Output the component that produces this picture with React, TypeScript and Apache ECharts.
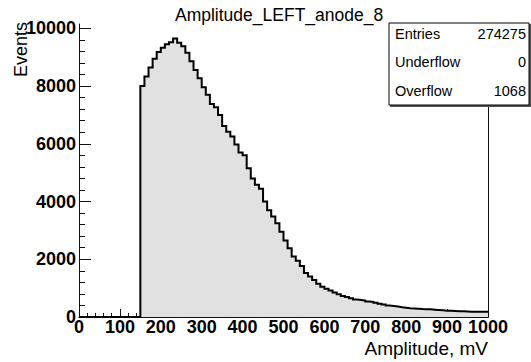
import { useEffect, useRef } from "react";
import * as echarts from "echarts";

// Histogram: 100 bins of 10 mV from 0 to 1000 mV
const BIN_WIDTH = 10;
const X_MIN = 0;
const X_MAX = 1000;
const Y_MAX = 10150;
const COUNTS = [
  0, 0, 0, 0, 0, 0, 0, 0, 0, 0,
  0, 0, 0, 0, 0, 8000, 8330, 8640, 8950, 9180,
  9330, 9450, 9520, 9650, 9500, 9380, 9150, 8860, 8560, 8270,
  7960, 7700, 7380, 7270, 7000, 6620, 6420, 6250, 5980, 5700,
  5600, 5150, 4800, 4580, 4440, 4000, 3700, 3480, 3250, 2950,
  2650, 2380, 2100, 1950, 1770, 1520, 1400, 1280, 1150, 1050,
  980, 920, 850, 790, 730, 690, 650, 610, 590, 570,
  540, 520, 490, 460, 430, 400, 380, 360, 340, 320,
  300, 295, 285, 275, 270, 265, 255, 245, 235, 220,
  215, 210, 200, 195, 190, 185, 185, 180, 180, 178,
];
const Y_MAJOR = [0, 2000, 4000, 6000, 8000, 10000];
const STATS_LABELS = ["Entries", "Underflow", "Overflow"];
const STATS_VALUES = ["274275", "0", "1068"];
const TITLE = "Amplitude_LEFT_anode_8";
const X_NAME = "Amplitude, mV";
const Y_NAME = "Events";

const FONT = "'Liberation Sans', Arial, Helvetica, sans-serif";

export default function App() {
  const ref = useRef<HTMLDivElement>(null);
  useEffect(() => {
    if (!ref.current) return;
    const chart = echarts.init(ref.current, undefined, { renderer: "svg" });

    const data: [number, number][] = COUNTS.map((c, i) => [X_MIN + i * BIN_WIDTH, c]);
    data.push([X_MAX, COUNTS[COUNTS.length - 1]]);

    const yMinor: number[] = [];
    for (let i = 0; i < Y_MAJOR.length - 1; i++) {
      const step = (Y_MAJOR[i + 1] - Y_MAJOR[i]) / 5;
      for (let k = 1; k < 5; k++) yMinor.push(Y_MAJOR[i] + k * step);
    }

    const statsRowY = [33.5, 62, 90.5];
    const statsChildren: any[] = [
      { type: "rect", shape: { x: 390, y: 24, width: 141, height: 83 }, style: { fill: "#555" }, z: 10 },
      { type: "rect", shape: { x: 389, y: 23, width: 140, height: 82 }, style: { fill: "#fff", stroke: "#000", lineWidth: 1 }, z: 11 },
    ];
    STATS_LABELS.forEach((lab, i) => {
      statsChildren.push({
        type: "text", x: 395, y: statsRowY[i], z: 12,
        style: { text: lab, fill: "#000", fontSize: 14.5, fontFamily: FONT, align: "left", verticalAlign: "middle" },
      });
      statsChildren.push({
        type: "text", x: 526, y: statsRowY[i], z: 12,
        style: { text: STATS_VALUES[i], fill: "#000", fontSize: 14.5, fontFamily: FONT, align: "right", verticalAlign: "middle" },
      });
    });

    const axisLine = { show: true, lineStyle: { color: "#111", width: 1 } };
    const plain = (v: number) => String(v);

    chart.setOption({
      animation: false,
      grid: { left: 79, right: 43, top: 24, bottom: 45, containLabel: false },
      xAxis: [
        {
          type: "value", min: X_MIN, max: X_MAX, interval: 100, position: "bottom",
          axisLine,
          axisTick: { show: true, inside: true, length: 8, lineStyle: { color: "#111" } },
          minorTick: { show: true, splitNumber: 5, length: 4, lineStyle: { color: "#111" } },
          splitLine: { show: false },
          axisLabel: {
            show: true, margin: 3, lineHeight: 14, color: "#000", fontSize: 18, fontWeight: "bold",
            fontFamily: FONT, formatter: plain,
          },
        },
        {
          type: "value", min: X_MIN, max: X_MAX, position: "top",
          axisLine, axisTick: { show: false }, axisLabel: { show: false }, splitLine: { show: false },
        },
      ],
      yAxis: [
        {
          type: "value", min: 0, max: Y_MAX, position: "left",
          axisLine,
          axisTick: { show: true, inside: true, length: 12, customValues: Y_MAJOR, lineStyle: { color: "#111" } },
          axisLabel: {
            show: true, customValues: Y_MAJOR, margin: 3, color: "#000", fontSize: 18, fontWeight: "bold",
            fontFamily: FONT, formatter: plain,
          },
          splitLine: { show: false },
        },
        {
          type: "value", min: 0, max: Y_MAX, position: "left", offset: 0,
          axisLine: { show: false },
          axisTick: { show: true, inside: true, length: 6, customValues: yMinor, lineStyle: { color: "#111" } },
          axisLabel: { show: false },
          splitLine: { show: false },
        },
        {
          type: "value", min: 0, max: Y_MAX, position: "right",
          axisLine, axisTick: { show: false }, axisLabel: { show: false }, splitLine: { show: false },
        },
      ],
      series: [
        {
          type: "line",
          xAxisIndex: 0,
          yAxisIndex: 0,
          step: "end",
          data,
          symbol: "none",
          lineStyle: { color: "#000", width: 2, join: "miter", cap: "butt" },
          areaStyle: { color: "#e1e1e1", opacity: 1 },
          z: 3,
        },
      ],
      graphic: [
        {
          type: "text", x: 175, y: 15, z: 5,
          style: { text: TITLE, fill: "#000", fontSize: 17.5, fontFamily: FONT, align: "left", verticalAlign: "middle" },
        },
        {
          type: "text", x: 30, y: 22, rotation: Math.PI / 2, z: 5,
          style: { text: Y_NAME, fill: "#000", fontSize: 18, fontFamily: FONT, align: "right", verticalAlign: "bottom" },
        },
        {
          type: "text", x: 488, y: 348, z: 5,
          style: {
            text: X_NAME, fill: "#000", fontSize: 19, lineHeight: 14, fontFamily: FONT,
            align: "right", verticalAlign: "middle",
          },
        },
        { type: "group", children: statsChildren },
      ],
    });
    return () => chart.dispose();
  }, []);
  return (
    <div
      ref={ref}
      style={{ position: "absolute", left: 0, top: 0, width: 531, height: 362, background: "#fff" }}
    />
  );
}
